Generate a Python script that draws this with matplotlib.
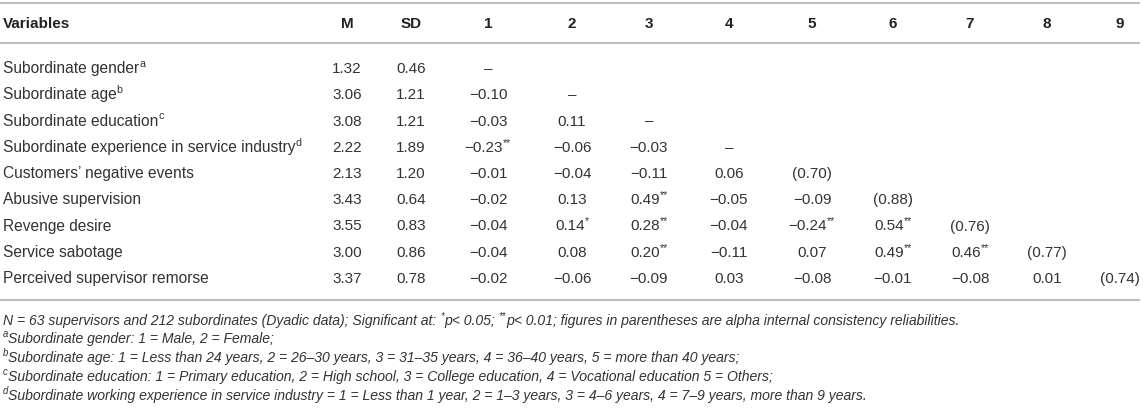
import matplotlib
matplotlib.use('Agg')
import matplotlib.pyplot as plt

plt.rcParams['font.family'] = ['Liberation Sans', 'DejaVu Sans']

# table content
headers = ['Variables', 'M', 'SD', '1', '2', '3', '4', '5', '6', '7', '8', '9']
variables = ['Subordinate gender', 'Subordinate age', 'Subordinate education',
             'Subordinate experience in service industry',
             'Customers\u2019 negative events', 'Abusive supervision',
             'Revenge desire', 'Service sabotage', 'Perceived supervisor remorse']
var_notes = ['a', 'b', 'c', 'd', '', '', '', '', '']
means = [1.32, 3.06, 3.08, 2.22, 2.13, 3.43, 3.55, 3.00, 3.37]
sds = [0.46, 1.21, 1.21, 1.89, 1.20, 0.64, 0.83, 0.86, 0.78]
# lower triangle of correlations (off-diagonal)
corr = [
    [],
    [-0.10],
    [-0.03, 0.11],
    [-0.23, -0.06, -0.03],
    [-0.01, -0.04, -0.11, 0.06],
    [-0.02, 0.13, 0.49, -0.05, -0.09],
    [-0.04, 0.14, 0.28, -0.04, -0.24, 0.54],
    [-0.04, 0.08, 0.20, -0.11, 0.07, 0.49, 0.46],
    [-0.02, -0.06, -0.09, 0.03, -0.08, -0.01, -0.08, 0.01],
]
stars = [
    [],
    [''],
    ['', ''],
    ['**', '', ''],
    ['', '', '', ''],
    ['', '', '**', '', ''],
    ['', '*', '**', '', '**', '**'],
    ['', '', '**', '', '', '**', '**'],
    ['', '', '', '', '', '', '', ''],
]
alphas = [None, None, None, None, 0.70, 0.88, 0.76, 0.77, 0.74]

footnotes = [
    [('N = 63 supervisors and 212 subordinates (Dyadic data); Significant at: ', 0),
     ('*', 1), ('p< 0.05; ', 0), ('**', 1),
     ('p< 0.01; figures in parentheses are alpha internal consistency reliabilities.', 0)],
    [('a', 1), ('Subordinate gender: 1 = Male, 2 = Female;', 0)],
    [('b', 1), ('Subordinate age: 1 = Less than 24 years, 2 = 26\u201330 years, '
                '3 = 31\u201335 years, 4 = 36\u201340 years, 5 = more than 40 years;', 0)],
    [('c', 1), ('Subordinate education: 1 = Primary education, 2 = High school, '
                '3 = College education, 4 = Vocational education 5 = Others;', 0)],
    [('d', 1), ('Subordinate working experience in service industry = 1 = Less than 1 year, '
                '2 = 1\u20133 years, 3 = 4\u20136 years, 4 = 7\u20139 years, more than 9 years.', 0)],
]

W, H = 1143, 409
col_x = [3, 347, 411, 488, 572, 649, 729, 812, 893, 970, 1047, 1120]
row_y0, row_dy = 68, 26.25
header_y = 23
foot_y = [321, 339, 358, 377, 396]

FS = 11.0
LABEL_FS = 11.2
FOOT_FS = 10.1
TXT = '#333333'
LINE = '#bdbdbd'

fig = plt.figure(figsize=(W / 100, H / 100), dpi=100)
ax = fig.add_axes([0, 0, 1, 1])
ax.set_xlim(0, W)
ax.set_ylim(H, 0)
ax.axis('off')
renderer = fig.canvas.get_renderer()


def advance(s, size, style='normal', weight='normal'):
    # width of s including spaces, measured between two bars
    def w(txt):
        t = ax.text(0, 0, txt, fontsize=size, fontstyle=style, fontweight=weight)
        bb = t.get_window_extent(renderer)
        t.remove()
        return bb.width
    return w('|' + s + '|') - w('||')


def runs_text(x, y, runs, size, ha='left', style='normal', weight='normal', color=TXT):
    sup_size = size * 0.68
    widths = [advance(s, sup_size if sup else size, style, weight) for s, sup in runs]
    if ha == 'center':
        x = x - sum(widths) / 2
    for (s, sup), w in zip(runs, widths):
        if sup:
            ax.text(x, y - size * 0.55, s, fontsize=sup_size, fontstyle=style,
                    fontweight=weight, color=color, va='baseline', ha='left')
        else:
            ax.text(x, y, s, fontsize=size, fontstyle=style, fontweight=weight,
                    color=color, va='baseline', ha='left')
        x += w


def fmt(v):
    return f'{v:.2f}'.replace('-', '\u2212')


# rules
for y in [3, 43, 300]:
    ax.plot([0, 1140], [y, y], color=LINE, lw=1.5, solid_capstyle='butt')

# header
for i, h in enumerate(headers):
    ha = 'left' if i == 0 else 'center'
    ax.text(col_x[i], header_y + 5, h, fontsize=FS, fontweight='bold',
            color='#222222', ha=ha, va='baseline')

# body
for r, name in enumerate(variables):
    yb = row_y0 + r * row_dy + 5
    runs = [(name, 0)]
    if var_notes[r]:
        runs.append((var_notes[r], 1))
    runs_text(col_x[0], yb, runs, LABEL_FS)
    ax.text(col_x[1], yb, f'{means[r]:.2f}', fontsize=FS, color=TXT,
            ha='center', va='baseline')
    ax.text(col_x[2], yb, f'{sds[r]:.2f}', fontsize=FS, color=TXT,
            ha='center', va='baseline')
    for c, v in enumerate(corr[r]):
        cell = [(fmt(v), 0)]
        if stars[r][c]:
            cell.append((stars[r][c], 1))
        runs_text(col_x[3 + c], yb, cell, FS, ha='center')
    diag = '\u2013' if alphas[r] is None else f'({alphas[r]:.2f})'
    ax.text(col_x[3 + r], yb, diag, fontsize=FS, color=TXT,
            ha='center', va='baseline')

# notes
for y, runs in zip(foot_y, footnotes):
    runs_text(3, y + 4, runs, FOOT_FS, style='italic')

fig.savefig('out.png', dpi=100)
